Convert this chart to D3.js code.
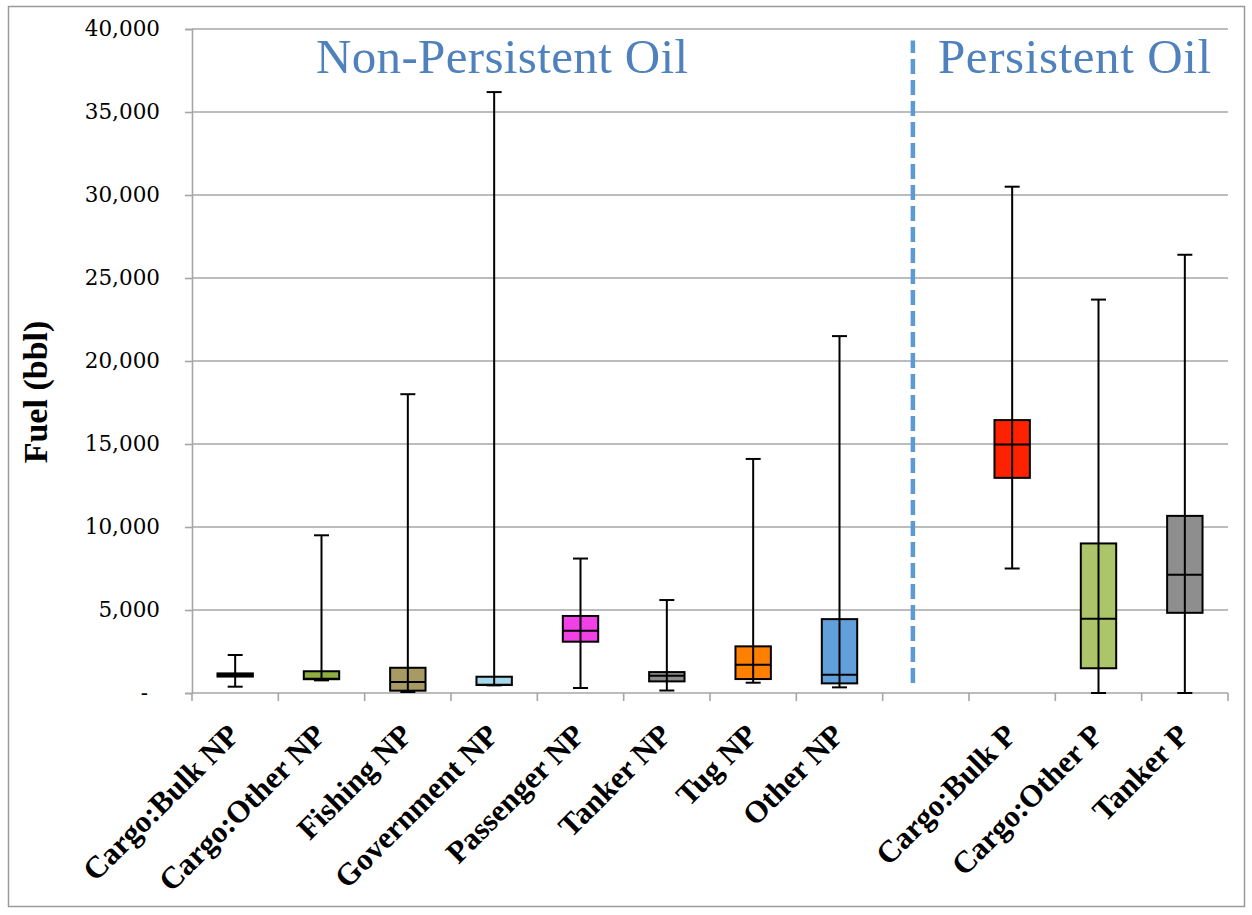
<!DOCTYPE html>
<html>
<head>
<meta charset="utf-8">
<script src="https://cdn.jsdelivr.net/npm/d3@7"></script>
<style>
  body { margin: 0; background: #fff; }
  svg { display: block; }
</style>
</head>
<body>
<svg id="chart" width="1252" height="915"></svg>
<script>
// Fuel volume distribution by vessel type (box = quartiles, whiskers = min/max)
const categories = ["Cargo:Bulk NP", "Cargo:Other NP", "Fishing NP", "Government NP",
  "Passenger NP", "Tanker NP", "Tug NP", "Other NP", "", "Cargo:Bulk P", "Cargo:Other P", "Tanker P"];
const minValues    = [380, 760, 60, 460, 300, 150, 620, 340, null, 7500, 0, 0];
const q1Values     = [990, 830, 140, 480, 3090, 700, 840, 580, null, 12960, 1490, 4830];
const medianValues = [1080, 860, 660, 490, 3750, 1040, 1700, 1100, null, 14970, 4470, 7120];
const q3Values     = [1180, 1310, 1520, 980, 4640, 1260, 2810, 4450, null, 16440, 9010, 10670];
const maxValues    = [2290, 9500, 18000, 36200, 8100, 5600, 14100, 21500, null, 30500, 23700, 26400];
const boxColors = ["#3a3a3a", "#8fae3f", "#a89a63", "#a5d8ea", "#f040e6", "#8c8c8c",
  "#ff8000", "#62a0db", null, "#ff2200", "#acc46a", "#8e8e8e"];
const yTicks = [0, 5000, 10000, 15000, 20000, 25000, 30000, 35000, 40000];
const groupTitles = ["Non-Persistent Oil", "Persistent Oil"];
const yTitle = "Fuel (bbl)";
const dividerRange = [600, 39300];

const svg = d3.select("#chart");
const plot = { left: 192, right: 1228, top: 29, bottom: 693 };
const gridColor = "#a6a6a6";

const x = d3.scaleBand().domain(categories).range([plot.left, plot.right]).padding(0);
const y = d3.scaleLinear().domain([0, 40000]).range([plot.bottom, plot.top]);

// outer frame
svg.append("rect")
  .attr("x", 8.5).attr("y", 6.5).attr("width", 1236).attr("height", 900)
  .attr("fill", "none").attr("stroke", "#9a9a9a").attr("stroke-width", 1.5);

// horizontal gridlines
svg.append("g").selectAll("line").data(yTicks.filter(d => d > 0)).join("line")
  .attr("x1", plot.left).attr("x2", plot.right)
  .attr("y1", d => y(d)).attr("y2", d => y(d))
  .attr("stroke", gridColor).attr("stroke-width", 1.6);

// y axis
const yAxis = svg.append("g")
  .attr("transform", `translate(${plot.left},0)`)
  .call(d3.axisLeft(y).tickValues(yTicks).tickSize(7).tickPadding(25)
    .tickFormat(d => d === 0 ? "-" : d3.format(",")(d)));
yAxis.select(".domain").attr("stroke", gridColor).attr("stroke-width", 1.6);
yAxis.selectAll(".tick line").attr("stroke", gridColor).attr("stroke-width", 1.6);
yAxis.selectAll(".tick text")
  .attr("font-family", "'DejaVu Serif', serif").attr("font-size", 21.5).attr("fill", "#000")
  .attr("dx", d => d === 0 ? -12 : 0);

// x axis baseline and category boundary ticks
svg.append("line")
  .attr("x1", plot.left).attr("x2", plot.right)
  .attr("y1", plot.bottom).attr("y2", plot.bottom)
  .attr("stroke", gridColor).attr("stroke-width", 1.6);
const boundaries = categories.map(c => x(c)).concat([x(categories[categories.length - 1]) + x.bandwidth()]);
svg.append("g").selectAll("line").data(boundaries).join("line")
  .attr("x1", d => d).attr("x2", d => d)
  .attr("y1", plot.bottom).attr("y2", plot.bottom + 8)
  .attr("stroke", gridColor).attr("stroke-width", 1.6);

// category labels, rotated
const xAxis = svg.append("g")
  .attr("transform", `translate(0,${plot.bottom})`)
  .call(d3.axisBottom(x).tickSize(0).tickFormat(d => d));
xAxis.select(".domain").remove();
xAxis.selectAll(".tick text")
  .attr("font-family", "'Liberation Serif', serif").attr("font-weight", "bold")
  .attr("font-size", 31).attr("fill", "#000")
  .attr("text-anchor", "end")
  .attr("dy", 0).attr("y", 0)
  .attr("transform", "translate(6,44) rotate(-45)");

// divider between oil groups
const gapCat = categories[8];
const dividerX = x(gapCat) + x.bandwidth() * 0.35;
svg.append("line")
  .attr("x1", dividerX).attr("x2", dividerX)
  .attr("y1", y(dividerRange[0])).attr("y2", y(dividerRange[1]))
  .attr("stroke", "#5b9bd5").attr("stroke-width", 4.5)
  .attr("stroke-dasharray", "15,6");

// box plots
const stats = categories.map((c, i) => ({
  cat: c, min: minValues[i], q1: q1Values[i], med: medianValues[i],
  q3: q3Values[i], max: maxValues[i], color: boxColors[i]
})).filter(d => d.max !== null);

const boxW = x.bandwidth() * 0.41;
const capW = 15;
const boxes = svg.append("g").selectAll("g").data(stats).join("g")
  .attr("transform", d => `translate(${x(d.cat) + x.bandwidth() / 2},0)`);

boxes.append("rect")
  .attr("x", -boxW / 2).attr("width", boxW)
  .attr("y", d => y(d.q3)).attr("height", d => y(d.q1) - y(d.q3))
  .attr("fill", d => d.color).attr("stroke", "#000").attr("stroke-width", 2);

boxes.append("line")
  .attr("x1", 0).attr("x2", 0)
  .attr("y1", d => y(d.min)).attr("y2", d => y(d.max))
  .attr("stroke", "#000").attr("stroke-width", 2);

boxes.append("line")
  .attr("x1", -capW / 2).attr("x2", capW / 2)
  .attr("y1", d => y(d.max)).attr("y2", d => y(d.max))
  .attr("stroke", "#000").attr("stroke-width", 2);

boxes.append("line")
  .attr("x1", -capW / 2).attr("x2", capW / 2)
  .attr("y1", d => y(d.min)).attr("y2", d => y(d.min))
  .attr("stroke", "#000").attr("stroke-width", 2);

boxes.append("line")
  .attr("x1", -boxW / 2).attr("x2", boxW / 2)
  .attr("y1", d => y(d.med)).attr("y2", d => y(d.med))
  .attr("stroke", "#000").attr("stroke-width", 2);

// y-axis title
svg.append("text")
  .attr("transform", "translate(47,392) rotate(-90)")
  .attr("text-anchor", "middle")
  .attr("font-family", "'Liberation Serif', serif").attr("font-weight", "bold")
  .attr("font-size", 34).attr("fill", "#000")
  .text(yTitle);

// group titles
svg.append("text")
  .attr("x", 316).attr("y", 73)
  .attr("font-family", "'Liberation Serif', serif").attr("font-size", 49)
  .attr("fill", "#4f81bd").attr("textLength", 372)
  .text(groupTitles[0]);
svg.append("text")
  .attr("x", 938).attr("y", 73)
  .attr("font-family", "'Liberation Serif', serif").attr("font-size", 49)
  .attr("fill", "#4f81bd").attr("textLength", 273)
  .text(groupTitles[1]);
</script>
</body>
</html>
